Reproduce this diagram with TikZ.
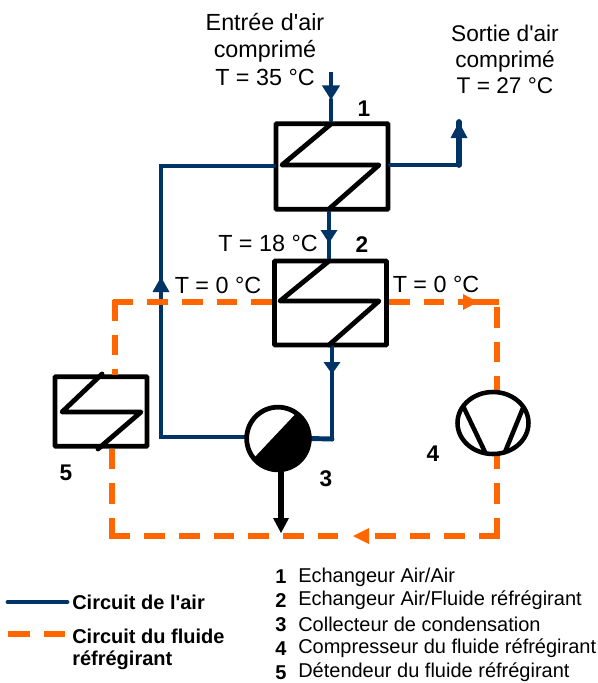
\documentclass[tikz,border=0pt]{standalone}
\usepackage{fontspec}
\setmainfont[Ligatures=TeXOff]{Liberation Sans}
\usetikzlibrary{arrows.meta,calc}
\definecolor{airblue}{HTML}{003366}
\definecolor{fluidorange}{HTML}{FF6600}
\tikzset{
  hxbox/.style={draw=black,line width=3.6pt,rounded corners=0.6pt,rectangle,inner sep=0pt},
  coil/.style={draw=black,line width=3.6pt,line cap=round,line join=round},
  air/.style={draw=airblue,line width=3.7pt,line cap=round},
  airtip/.style={air,line cap=butt,-{Triangle[length=11pt,width=13pt,fill=airblue]}},
  fluid/.style={draw=fluidorange,line width=4.3pt,dash pattern=on 15.5pt off 10.5pt},
  fluidsolid/.style={draw=fluidorange,line width=4.3pt},
  fluidtip/.style={fill=fluidorange,draw=none},
  lbl/.style={font=\fontsize{17.5}{20.6}\selectfont,align=center,inner sep=0pt},
  lblb/.style={font=\fontsize{17}{19.5}\selectfont,align=center,inner sep=0pt},
  num/.style={font=\bfseries\fontsize{17}{18}\selectfont,inner sep=0pt},
  leg/.style={font=\fontsize{15}{18}\selectfont,anchor=west,inner sep=0pt},
  legb/.style={font=\bfseries\fontsize{15}{18}\selectfont,anchor=west,inner sep=0pt}
}
\begin{document}
\begin{tikzpicture}[x=0.75pt,y=-0.75pt]
\useasboundingbox (0,0) rectangle (598,683);
% exchangers
\node[hxbox,minimum width=84pt,minimum height=64pt] (b1) at (332,166.5) {};
\node[hxbox,minimum width=84pt,minimum height=63pt] (b2) at (330.5,303) {};
\node[hxbox,minimum width=69pt,minimum height=52pt] (b5) at (101,411.5) {};
% named points
\coordinate (in) at (331,72);
\coordinate (intip) at (331,100);
\coordinate (outc) at (459,165);
\coordinate (lc) at (161,166);
\coordinate (lbc) at (161,437);
\coordinate (brc) at (332,439);
\coordinate (tl) at (113,302);
\coordinate (tr) at (499,302);
% air circuit
\draw[airtip] (in) -- (intip);
\draw[air] (intip) -- (331,120);
\draw[air] (b1.east |- outc) -- (outc);
\draw[air,line width=4.3pt] (outc) -- (459,122);
\fill[airblue] (450.5,138) -- (459,122) -- (467.5,138) -- cycle;
\draw[air] (b1.south -| 329,0) -- (329,232);
\fill[airblue] (320.5,230) -- (329,243) -- (337.5,230) -- cycle;
\draw[air] (329,240) -- (b2.north -| 329,0);
\draw[air] (b2.south -| 332,0) -- (brc);
\fill[airblue] (323.5,362) -- (332,374) -- (340.5,362) -- cycle;
\draw[air] (b1.west |- lc) -- (lc) -- (lbc) -- (250,437);
\fill[airblue] (152.5,292) -- (161,277) -- (169.5,292) -- cycle;
% fluid circuit
\draw[fluid] (b2.west |- tl) -- (tl);
\draw[fluid] (115,300) -- (115,375);
\draw[fluid] (b2.east |- tl) -- (475,302);
\draw[fluidsolid] (470,302) -- (tr);
\fill[fluidtip] (463,294) -- (478,302) -- (463,310) -- cycle;
\draw[fluid] (497,307) -- (497,392);
\draw[fluid] (497,538.5) -- (497,455);
\draw[fluid] (499.5,536) -- (372,536);
\draw[fluid] (109.5,536) -- (340,536);
\draw[fluid] (112,538.5) -- (112,448);
\fill[fluidtip] (369,528) -- (353,536) -- (369,544) -- cycle;
% drain
\draw[draw=black,line width=4.5pt] (281,470) -- (281,520);
\fill[black] (273,518) -- (281,533) -- (289,518) -- cycle;
% collector
\draw[air] (310,438.5) -- (brc);
\node[circle,draw=black,fill=white,line width=3.6pt,minimum size=47pt,inner sep=0pt] (c3) at (278,438.5) {};
\begin{scope}
\clip (278,438.5) circle (32);
\fill[black] (320,388) -- (220,494) -- (340,494) -- (340,388) -- cycle;
\end{scope}
% compressor
\draw[black,line width=3.4pt] (493,423) ellipse (35.5 and 31);
\draw[black,line width=3.4pt,line cap=round] (464,408) -- (485,452);
\draw[black,line width=3.4pt,line cap=round] (523,408) -- (505,452);
% coils
\draw[coil] (331,124) -- (282,165) -- (379,165) -- (329,209);
\draw[coil] (329,261) -- (280,301) -- (379,301) -- (329,345);
\draw[coil] (102,374) -- (62,412) -- (141,412) -- (98,449);
% labels
\node[lbl] (t1) at (265,49.5) {Entrée d'air\\comprimé\\T = 35 °C};
\node[lblb] (t2) at (505,59.5) {Sortie d'air\\comprimé\\T = 27 °C};
\node[lbl] (t3) at (268,243) {T = 18 °C};
\node[lbl] (t4) at (218,285) {T = 0 °C};
\node[lbl] (t5) at (436,284) {T = 0 °C};
\node[num] (n1) at (364,109) {1};
\node[num] (n2) at (362,245) {2};
\node[num] (n3) at (326,479) {3};
\node[num] (n4) at (433,454) {4};
\node[num] (n5) at (66,473) {5};
% legend
\coordinate (la) at (8,602);
\coordinate (lb) at (67,602);
\coordinate (lc2) at (8,634);
\coordinate (ld) at (65,634);
\draw[air] (la) -- (lb);
\draw[draw=fluidorange,line width=4.3pt,dash pattern=on 16.5pt off 10.5pt] (lc2) -- (ld);
\node[legb] (l1) at (72,602) {Circuit de l'air};
\node[legb] (l2) at (72,636) {Circuit du fluide};
\node[legb] (l3) at (72,660) {réfrégirant};
\foreach \n/\t/\y in {1/Echangeur Air\slash Air/577,2/Echangeur Air\slash Fluide réfrégirant/600.5,3/Collecteur de condensation/624.5,4/Compresseur du fluide réfrégirant/648.5,5/Détendeur du fluide réfrégirant/672.5}{
  \node[legb] (k\n) at (275,\y) {\n};
  \node[leg] (v\n) at (298,\y) {\t};
}
\end{tikzpicture}
\end{document}
